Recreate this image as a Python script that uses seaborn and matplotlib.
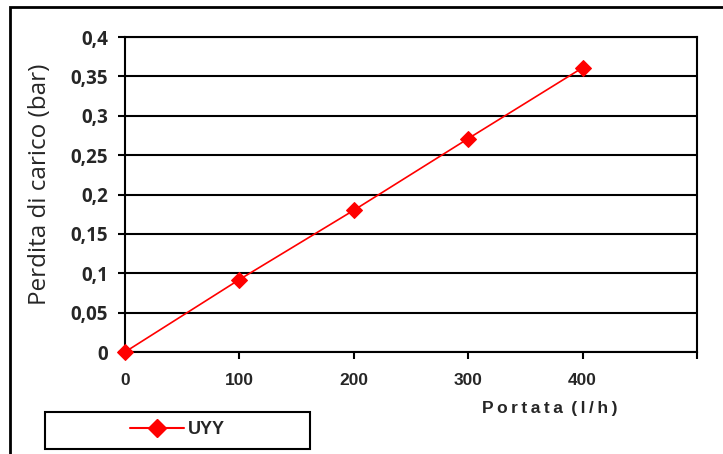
import matplotlib
matplotlib.use("Agg")
import matplotlib.pyplot as plt
import seaborn as sns
import pandas as pd
from matplotlib.patches import Rectangle
from matplotlib.lines import Line2D

portata = [0, 100, 200, 300, 400]
perdita = [0.0, 0.092, 0.18, 0.271, 0.361]
series_name = "UYY"
y_ticks = [0, 0.05, 0.1, 0.15, 0.2, 0.25, 0.3, 0.35, 0.4]
y_tick_labels = ["0", "0,05", "0,1", "0,15", "0,2", "0,25", "0,3", "0,35", "0,4"]
x_ticks = [0, 100, 200, 300, 400, 500]
x_tick_labels = ["0", "100", "200", "300", "400", ""]

sns.set_style("white")
plt.rcParams['font.family'] = ['Liberation Sans', 'DejaVu Sans']

df = pd.DataFrame({"Portata": portata, "Perdita": perdita})

W, H = 723, 454
fig = plt.figure(figsize=(W / 100, H / 100), dpi=100)
ax = fig.add_axes([125 / W, 1 - 352 / H, (697 - 125) / W, (352 - 37) / H])

sns.lineplot(data=df, x="Portata", y="Perdita", ax=ax, color="#ff0000",
             marker="D", markersize=8, markeredgecolor="#ff0000",
             linewidth=1.2, zorder=5, clip_on=False)

ax.set_xlim(0, 500)
ax.set_ylim(0, 0.4)
ax.set_yticks(y_ticks)
ax.set_yticklabels(y_tick_labels, fontsize=13.5, fontweight="bold",
                   family=['Open Sans', 'DejaVu Sans'])
ax.set_xticks(x_ticks)
ax.set_xticklabels(x_tick_labels, fontsize=12.5, fontweight="bold")
ax.tick_params(axis="y", length=5, width=1.5, color="black", direction="out", pad=7, left=True)
ax.tick_params(axis="x", length=5, width=1.5, color="black", direction="out", pad=10, bottom=True)
ax.grid(axis="y", color="black", linewidth=1.5)
ax.grid(axis="x", visible=False)
ax.set_axisbelow(True)
for s in ax.spines.values():
    s.set_visible(True)
    s.set_color("black")
    s.set_linewidth(1.5)

ax.set_ylabel("Perdita di carico (bar)", fontsize=17.5, family=['Open Sans', 'DejaVu Sans'])
ax.yaxis.set_label_coords(-(125 - 40) / (697 - 125), (352 - 184) / (352 - 37))
ax.set_xlabel("P\u2009o\u2009r\u2009t\u2009a\u2009t\u2009a\u2009 (\u2009l\u2009/\u2009h\u2009)",
              fontsize=12.5, fontweight="bold",
              family=['Liberation Sans', 'DejaVu Sans'])
ax.xaxis.set_label_coords((550 - 125) / (697 - 125), -(409 - 352) / (352 - 37))
ax.xaxis.label.set_verticalalignment("center")
ax.yaxis.label.set_verticalalignment("center")

# outer chart frame
fig.patches.append(Rectangle((10 / W, -0.05), 1.1, 1 - 7 / H + 0.05,
                             transform=fig.transFigure, fill=False,
                             edgecolor="black", linewidth=2))

# legend box
fig.patches.append(Rectangle((45 / W, 1 - 449 / H), (310 - 45) / W, (449 - 412) / H,
                             transform=fig.transFigure, fill=False,
                             edgecolor="black", linewidth=1.5))
handle = Line2D([], [], color="#ff0000", marker="D", markersize=9, linewidth=1.5)
leg = fig.legend([handle], [series_name], loc="center",
                 bbox_to_anchor=(177 / W, 1 - 430 / H),
                 frameon=False, prop={"weight": "bold", "size": 13},
                 handlelength=3.0, handletextpad=0.2, borderpad=0)

fig.savefig("out.png", dpi=100)
